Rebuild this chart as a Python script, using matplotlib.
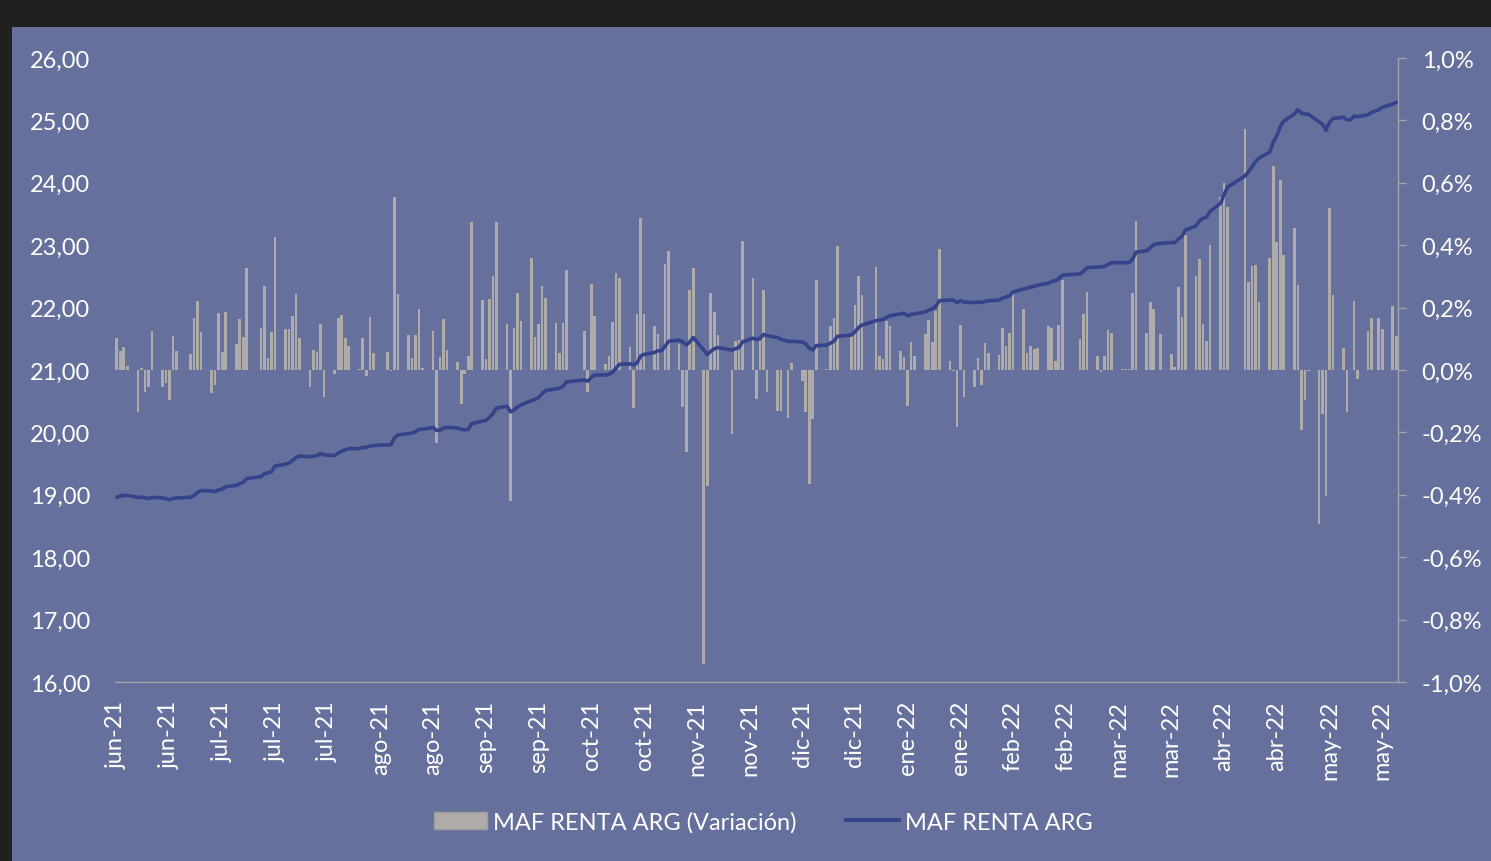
import matplotlib
matplotlib.use("Agg")
import matplotlib.pyplot as plt
import matplotlib.dates as mdates
from matplotlib.patches import Rectangle, Patch
from matplotlib.lines import Line2D
import pandas as pd
import numpy as np

# ---------------- data ----------------
start_date = "2021-06-01"
end_date = "2022-05-31"
holidays = ["2021-06-21", "2021-07-09", "2021-08-16", "2021-10-08", "2021-10-11",
            "2021-11-22", "2021-12-08", "2021-12-24", "2021-12-31", "2022-02-28",
            "2022-03-01", "2022-03-24", "2022-04-14", "2022-04-15", "2022-05-25"]

# daily variation (%) per trading day
variacion = [
    0.102, 0.062, 0.075, 0.013,
    -0.134, 0.007, -0.069, -0.053, 0.125,
    -0.053, -0.043, -0.096, 0.110, 0.061,
    0.050, 0.168, 0.221, 0.123,
    -0.075, -0.048, 0.182, 0.059, 0.185,
    0.082, 0.163, 0.105, 0.326,
    0.134, 0.269, 0.037, 0.123, 0.427,
    0.130, 0.130, 0.174, 0.243, 0.104,
    -0.053, 0.064, 0.057, 0.146, -0.085,
    -0.013, 0.166, 0.176, 0.104, 0.078,
    0.003, 0.101, -0.018, 0.171, 0.053,
    0.057, -0.002, 0.553, 0.245,
    0.112, 0.039, 0.112, 0.194, 0.005,
    0.125, -0.235, 0.041, 0.162, 0.064,
    0.025, -0.109, -0.013, 0.045, 0.475,
    0.223, 0.034, 0.227, 0.300, 0.473,
    0.146, -0.420, 0.134, 0.246, 0.158,
    0.360, 0.105, 0.146, 0.269, 0.230,
    0.150, 0.053, 0.150, 0.321,
    0.126, -0.069, 0.275, 0.174,
    0.018, 0.046, 0.155, 0.310, 0.295,
    0.073, -0.123, 0.179, 0.487, 0.179,
    0.142, 0.115, 0.000, 0.340, 0.382,
    0.083, -0.120, -0.264, 0.258, 0.326,
    -0.942, -0.372, 0.248, 0.185, 0.112,
    -0.205, 0.092, 0.097, 0.414,
    0.294, -0.093, 0.094, 0.257, -0.072,
    -0.130, -0.130, -0.154, 0.022,
    -0.034, -0.136, -0.365, -0.157, 0.290,
    0.003, 0.142, 0.167, 0.396,
    0.110, 0.208, 0.302, 0.241,
    0.329, 0.044, 0.035, 0.158, 0.140,
    0.062, 0.041, -0.114, 0.089, 0.046,
    0.115, 0.161, 0.091, 0.190, 0.388,
    0.030, -0.003, -0.184, 0.145, -0.088,
    -0.055, 0.037, -0.048, 0.087, 0.054,
    0.049, 0.134, 0.076, 0.118, 0.254,
    0.196, 0.054, 0.078, 0.067, 0.069,
    0.140, 0.134, 0.030, 0.144, 0.288,
    0.099, 0.180, 0.249,
    0.046, -0.005, 0.046, 0.128, 0.119,
    0.003, 0.003, 0.003, 0.247, 0.479,
    0.118, 0.219, 0.196, 0.115,
    0.051, 0.009, 0.265, 0.169, 0.434,
    0.302, 0.356, 0.147, 0.092, 0.401,
    0.553, 0.600, 0.521,
    0.772, 0.283, 0.334, 0.336, 0.219,
    0.359, 0.654, 0.409, 0.610, 0.369,
    0.454, 0.273, -0.191, -0.095, -0.002,
    -0.493, -0.141, -0.405, 0.519, 0.241,
    0.069, -0.134, 0.000, 0.220, -0.029,
    0.124, 0.166, 0.167, 0.131,
    0.206, 0.110,
]

# fund value per trading day
valor = [
    18.96, 18.98, 18.99, 18.99,
    18.96, 18.96, 18.95, 18.94, 18.96,
    18.95, 18.94, 18.92, 18.94, 18.95,
    18.96, 18.99, 19.04, 19.07,
    19.06, 19.05, 19.08, 19.09, 19.13,
    19.15, 19.18, 19.20, 19.26,
    19.29, 19.34, 19.35, 19.37, 19.46,
    19.49, 19.51, 19.55, 19.60, 19.62,
    19.61, 19.62, 19.63, 19.66, 19.64,
    19.63, 19.67, 19.70, 19.72, 19.74,
    19.74, 19.76, 19.76, 19.78, 19.79,
    19.80, 19.80, 19.91, 19.96,
    19.98, 19.99, 20.01, 20.05, 20.05,
    20.08, 20.03, 20.04, 20.07, 20.08,
    20.07, 20.05, 20.04, 20.05, 20.14,
    20.18, 20.19, 20.24, 20.30, 20.39,
    20.42, 20.33, 20.36, 20.41, 20.44,
    20.51, 20.53, 20.56, 20.62, 20.67,
    20.70, 20.71, 20.74, 20.81,
    20.84, 20.82, 20.88, 20.92,
    20.92, 20.93, 20.96, 21.03, 21.09,
    21.10, 21.08, 21.11, 21.22, 21.25,
    21.28, 21.31, 21.31, 21.38, 21.46,
    21.48, 21.45, 21.40, 21.45, 21.52,
    21.32, 21.25, 21.30, 21.34, 21.36,
    21.32, 21.34, 21.36, 21.45,
    21.51, 21.49, 21.51, 21.57, 21.55,
    21.52, 21.49, 21.46, 21.46,
    21.45, 21.42, 21.35, 21.32, 21.39,
    21.40, 21.43, 21.46, 21.54,
    21.56, 21.61, 21.68, 21.72,
    21.79, 21.80, 21.81, 21.84, 21.87,
    21.90, 21.91, 21.87, 21.89, 21.90,
    21.93, 21.96, 21.98, 22.02, 22.11,
    22.12, 22.12, 22.08, 22.11, 22.09,
    22.08, 22.09, 22.08, 22.10, 22.11,
    22.12, 22.15, 22.17, 22.19, 22.25,
    22.30, 22.31, 22.33, 22.34, 22.36,
    22.39, 22.42, 22.43, 22.46, 22.52,
    22.54, 22.58, 22.64,
    22.65, 22.65, 22.66, 22.69, 22.72,
    22.72, 22.72, 22.72, 22.78, 22.89,
    22.91, 22.96, 23.01, 23.03,
    23.04, 23.04, 23.10, 23.14, 23.24,
    23.31, 23.39, 23.43, 23.45, 23.54,
    23.67, 23.81, 23.93,
    24.11, 24.18, 24.26, 24.34, 24.40,
    24.49, 24.65, 24.75, 24.90, 24.99,
    25.10, 25.17, 25.12, 25.10, 25.10,
    24.98, 24.94, 24.84, 24.97, 25.03,
    25.05, 25.01, 25.01, 25.07, 25.06,
    25.09, 25.13, 25.17, 25.21,
    25.26, 25.29,
]

month_names = ["ene", "feb", "mar", "abr", "may", "jun",
               "jul", "ago", "sep", "oct", "nov", "dic"]
tick_step_days = 15
n_ticks = 25
left_ticks = [16, 17, 18, 19, 20, 21, 22, 23, 24, 25, 26]
right_ticks = [-1.0, -0.8, -0.6, -0.4, -0.2, 0.0, 0.2, 0.4, 0.6, 0.8, 1.0]

label_bar = "MAF RENTA ARG (Variación)"
label_line = "MAF RENTA ARG"

# ---------------- build ----------------
bdays = pd.bdate_range(start_date, end_date)
dates = bdays[~bdays.isin(pd.to_datetime(holidays))]
assert len(dates) == len(variacion) == len(valor), (len(dates), len(variacion), len(valor))

BG_DARK = "#202020"
PANEL = "#65709C"
BAR = "#AEABA8"
LINE = "#35438A"
TXT = "#FFFFFF"
AXIS = "#A3A3A8"
FONT = "Lato"
FS = 17

W, H = 1491, 862
fig = plt.figure(figsize=(W / 100, H / 100), dpi=100, facecolor=BG_DARK)
panel = Rectangle((12 / W, 0), 1 - 12 / W, 1 - 28 / H,
                  transform=fig.transFigure, facecolor=PANEL,
                  edgecolor="none", zorder=-10)
fig.add_artist(panel)

ax = fig.add_axes([115 / W, (H - 683) / H, 1283 / W, 624 / H])
ax.set_facecolor("none")
ax2 = ax.twinx()   # line axis (drawn on top of bars)

x0 = pd.Timestamp(start_date)
ax.bar(dates, variacion, width=0.75, color=BAR, zorder=2)
ax.set_ylim(-1.0, 1.0)
ax.set_xlim(mdates.date2num(x0) - 0.5, mdates.date2num(pd.Timestamp(end_date)) + 0.5)

# bar axis: right side
ax.set_yticks(right_ticks)
ax.set_yticklabels([f"{v:.1f}%".replace(".", ",") for v in right_ticks],
                   fontsize=FS, color=TXT, family=FONT)
ax.tick_params(axis="y", which="both", left=False, labelleft=False,
               right=True, labelright=True, direction="out", length=6, width=1,
               color=AXIS, pad=11)

tick_dates = [x0 + pd.Timedelta(days=tick_step_days * k) for k in range(n_ticks)]
ax.set_xticks(tick_dates)
ax.set_xticklabels([f"{month_names[d.month - 1]}-{d.year % 100:02d}" for d in tick_dates],
                   rotation=90, fontsize=FS, color=TXT, family=FONT)
ax.tick_params(axis="x", length=0, pad=13)

for side in ["top", "left"]:
    ax.spines[side].set_visible(False)
ax.spines["bottom"].set_color(AXIS)
ax.spines["right"].set_color(AXIS)
ax.spines["bottom"].set_linewidth(1)
ax.spines["right"].set_linewidth(1)

# line axis: left side
ax2.plot(dates, valor, color=LINE, linewidth=2.6, solid_joinstyle="round",
         solid_capstyle="round", zorder=3)
ax2.set_ylim(16, 26)
ax2.set_yticks(left_ticks)
ax2.set_yticklabels([f"{v:.2f}".replace(".", ",") for v in left_ticks],
                    fontsize=FS, color=TXT, family=FONT)
ax2.tick_params(axis="y", left=True, labelleft=True, right=False, labelright=False,
                length=0, pad=18)
for side in ["top", "left", "right", "bottom"]:
    ax2.spines[side].set_visible(False)

handles = [Patch(facecolor=BAR, edgecolor="#9E9C99", linewidth=1),
           Line2D([0], [0], color=LINE, linewidth=2.8)]
fig.legend(handles, [label_bar, label_line], loc="center",
           bbox_to_anchor=(763 / W, 1 - 823 / H), ncol=2, frameon=False,
           handlelength=2.25, handletextpad=0.25, columnspacing=2.1,
           prop={"family": FONT, "size": FS}, labelcolor=TXT)

fig.savefig("out.png", dpi=100, facecolor=BG_DARK)
